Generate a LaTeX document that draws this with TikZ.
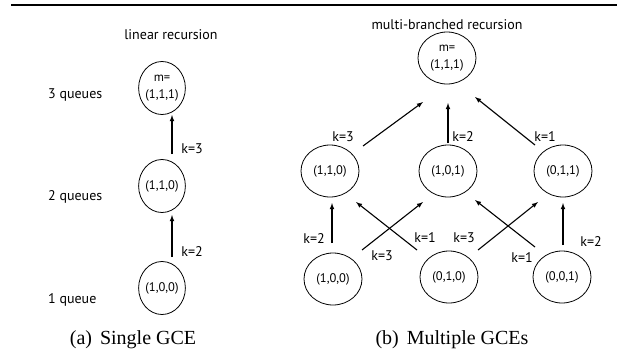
\documentclass[tikz,border=0pt]{standalone}
\usepackage{fontspec}
\setmainfont{Liberation Serif}
\newfontfamily\labelfont{PT Sans}
\usetikzlibrary{shapes.geometric, arrows}
\tikzstyle{state} = [ellipse, draw=black, line width=0.8pt, inner sep=0pt, minimum width=45pt, minimum height=53pt, align=center, font=\labelfont\fontsize{12.5}{17}\selectfont]
\tikzstyle{wide} = [state, minimum width=58pt, minimum height=52pt]
\tikzstyle{lbl} = [inner sep=0pt, font=\labelfont\fontsize{14}{16}\selectfont]
\tikzstyle{caption} = [inner sep=0pt, font=\fontsize{20}{23}\selectfont]
\tikzstyle{arrow} = [line width=1.1pt,->,>=latex]
\begin{document}
\begin{tikzpicture}[x=1pt,y=-1pt]
\useasboundingbox (0,0) rectangle (626,362);
\draw [line width=2pt] (11,5) -- (617,5);

% single GCE
\node (lin) [lbl] at (171,35) {linear recursion};
\node (a3) [state] at (162,88) {m=\\(1,1,1)};
\node (a2) [state] at (162,186) {(1,1,0)};
\node (a1) [state] at (162,288) {(1,0,0)};

\node (q3) [lbl, anchor=west] at (48,95) {3 queues};
\node (q2) [lbl, anchor=west] at (48,197) {2 queues};
\node (q1) [lbl, anchor=west] at (48,300) {1 queue};

\draw [arrow] ([shift={(10,-32)}]a2.center) -- ([shift={(10,27)}]a3.center);
\draw [arrow] ([shift={(10,-31)}]a1.center) -- ([shift={(10,29)}]a2.center);
\node (ka3) [lbl] at (192,149) {k=3};
\node (ka2) [lbl] at (192,252) {k=2};

\node (capa) [caption] at (133,340) {(a)\hspace{0.4em}Single GCE};

% multiple GCEs
\node (mbr) [lbl] at (447,25) {multi-branched recursion};
\node (top) [wide] at (447,58) {m=\\(1,1,1)};
\node (m110) [wide] at (330,171) {(1,1,0)};
\node (m101) [wide] at (448,171) {(1,0,1)};
\node (m011) [wide] at (563,171) {(0,1,1)};
\node (b100) [wide] at (333,279) {(1,0,0)};
\node (b010) [wide] at (449,277) {(0,1,0)};
\node (b001) [wide] at (562,277) {(0,0,1)};

\draw [arrow] ([shift={(33,-25)}]m110.center) -- ([shift={(-24,44)}]top.center);
\draw [arrow] ([shift={(0,-28)}]m101.center) -- ([shift={(1,45)}]top.center);
\draw [arrow] ([shift={(-28,-26)}]m011.center) -- ([shift={(28,39)}]top.center);

\draw [arrow] ([shift={(-1,-36)}]b100.center) -- ([shift={(2,32)}]m110.center);
\draw [arrow] ([shift={(29,-29)}]b100.center) -- ([shift={(-25,31)}]m101.center);
\draw [arrow] ([shift={(-32,-27)}]b010.center) -- ([shift={(26,31)}]m110.center);
\draw [arrow] ([shift={(29,-27)}]b010.center) -- ([shift={(-25,31)}]m011.center);
\draw [arrow] ([shift={(-27,-30)}]b001.center) -- ([shift={(27,29)}]m101.center);
\draw [arrow] ([shift={(1,-32)}]b001.center) -- ([shift={(0,32)}]m011.center);

\node (kt3) [lbl] at (343,137) {k=3};
\node (kt2) [lbl] at (463,137) {k=2};
\node (kt1) [lbl] at (545,137) {k=1};
\node (kb2a) [lbl] at (314,239) {k=2};
\node (kb3a) [lbl] at (382,256) {k=3};
\node (kb1a) [lbl] at (425,238) {k=1};
\node (kb3b) [lbl] at (464,238) {k=3};
\node (kb1b) [lbl] at (522,258) {k=1};
\node (kb2b) [lbl] at (591,242) {k=2};

\node (capb) [caption] at (452,340) {(b)\hspace{0.4em}Multiple GCEs};
\end{tikzpicture}
\end{document}
